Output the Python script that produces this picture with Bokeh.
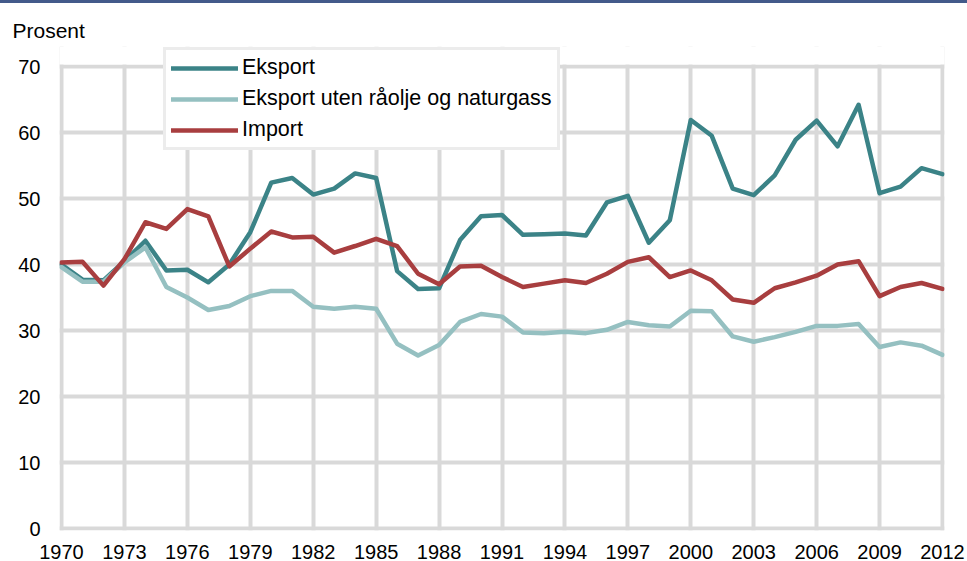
from bokeh.plotting import figure
from bokeh.models import Range1d, FixedTicker, Legend, LegendItem, BoxAnnotation, Div
from bokeh.layouts import column
from bokeh.embed import file_html
from bokeh.resources import INLINE

years = list(range(1970, 2013))
eksport = [40.0, 37.7, 37.6, 40.5, 43.6, 39.1, 39.2, 37.3, 40.0, 44.9,
           52.4, 53.1, 50.6, 51.5, 53.8, 53.1, 39.0, 36.3, 36.4, 43.7,
           47.3, 47.5, 44.5, 44.6, 44.7, 44.4, 49.4, 50.4, 43.3, 46.7,
           61.9, 59.5, 51.5, 50.5, 53.5, 58.9, 61.8, 57.9, 64.2, 50.8,
           51.8, 54.6, 53.7]
eksport_uten = [39.6, 37.4, 37.4, 40.3, 42.6, 36.6, 35.0, 33.1, 33.7, 35.2,
                36.0, 36.0, 33.6, 33.3, 33.6, 33.3, 28.0, 26.2, 27.8, 31.3,
                32.5, 32.1, 29.7, 29.6, 29.8, 29.6, 30.1, 31.3, 30.8, 30.6,
                33.0, 32.9, 29.1, 28.3, 29.0, 29.8, 30.7, 30.7, 31.0, 27.5,
                28.2, 27.7, 26.3]
importv = [40.3, 40.4, 36.8, 40.8, 46.4, 45.4, 48.4, 47.3, 39.7, 42.4,
           45.0, 44.1, 44.2, 41.8, 42.8, 43.9, 42.8, 38.6, 37.0, 39.7,
           39.8, 38.1, 36.6, 37.1, 37.6, 37.2, 38.6, 40.4, 41.1, 38.1,
           39.1, 37.6, 34.7, 34.2, 36.4, 37.3, 38.3, 40.0, 40.5, 35.2,
           36.6, 37.2, 36.3]
x_ticks = list(range(1970, 2013, 3))
y_ticks = list(range(0, 71, 10))
labels = ["Eksport", "Eksport uten råolje og naturgass", "Import"]
colors = ["#3b8387", "#95c0c1", "#a83e3f"]
grid_color = "#d9d9d9"
font = "Liberation Sans"

px_x = 881 / 42.0
px_y = 462 / 70.0
bar_h = 3

p = figure(width=967, height=561 - bar_h, output_backend="svg", toolbar_location=None,
           x_range=Range1d(1970 - 2 / px_x, 2012 + 2 / px_x),
           y_range=Range1d(0 - 2 / px_y, 70 + 20 / px_y),
           min_border_left=59, min_border_right=23, min_border_top=46 - bar_h,
           min_border_bottom=31, margin=(0, 0, 0, 0))
p.outline_line_color = None

p.title.text = "Prosent"
p.title.align = "left"
p.title.offset = -47
p.title.text_font = font
p.title.text_font_size = "21px"
p.title.text_font_style = "normal"
p.title.text_color = "#000000"

for ax in (p.xaxis[0], p.yaxis[0]):
    ax.axis_line_color = None
    ax.major_tick_line_color = None
    ax.minor_tick_line_color = None
    ax.major_label_text_font = font
    ax.major_label_text_font_size = "20px"
    ax.major_label_text_color = "#000000"
p.xaxis.ticker = FixedTicker(ticks=x_ticks)
p.yaxis.ticker = FixedTicker(ticks=y_ticks)
p.xaxis.major_label_standoff = 8
p.yaxis.major_label_standoff = 13

p.xgrid.ticker = FixedTicker(ticks=x_ticks)
p.ygrid.ticker = FixedTicker(ticks=y_ticks)
for g in (p.xgrid[0], p.ygrid[0]):
    g.grid_line_color = grid_color
    g.grid_line_width = 4

# white mask above the 70 line so vertical grid lines stop there
p.add_layout(BoxAnnotation(bottom=70 + 2 / px_y, fill_color="white", fill_alpha=1,
                           line_color=None, level="annotation"))

renderers = []
for series, c in zip([eksport, eksport_uten, importv], colors):
    r = p.line(years, series, line_color=c, line_width=4.5, line_join="round", line_cap="round")
    renderers.append(r)

legend = Legend(items=[LegendItem(label=l, renderers=[r]) for l, r in zip(labels, renderers)],
                location=(104, 380), orientation="vertical")
legend.label_text_font = font
legend.label_text_font_size = "21.5px"
legend.label_text_color = "#000000"
legend.glyph_width = 67
legend.glyph_height = 24
legend.label_height = 24
legend.label_standoff = 4
legend.spacing = 6
legend.padding = 5
legend.margin = 0
legend.border_line_color = grid_color
legend.border_line_width = 3
legend.background_fill_color = "white"
legend.background_fill_alpha = 1
p.add_layout(legend, "center")

bar = Div(text="", width=967, height=bar_h, margin=(0, 0, 0, 0),
          styles={"background-color": "#435a8a", "padding": "0px", "margin": "0px"})

layout = column(bar, p, spacing=0, margin=(0, 0, 0, 0))

open("out.html", "w").write(file_html(layout, INLINE))
